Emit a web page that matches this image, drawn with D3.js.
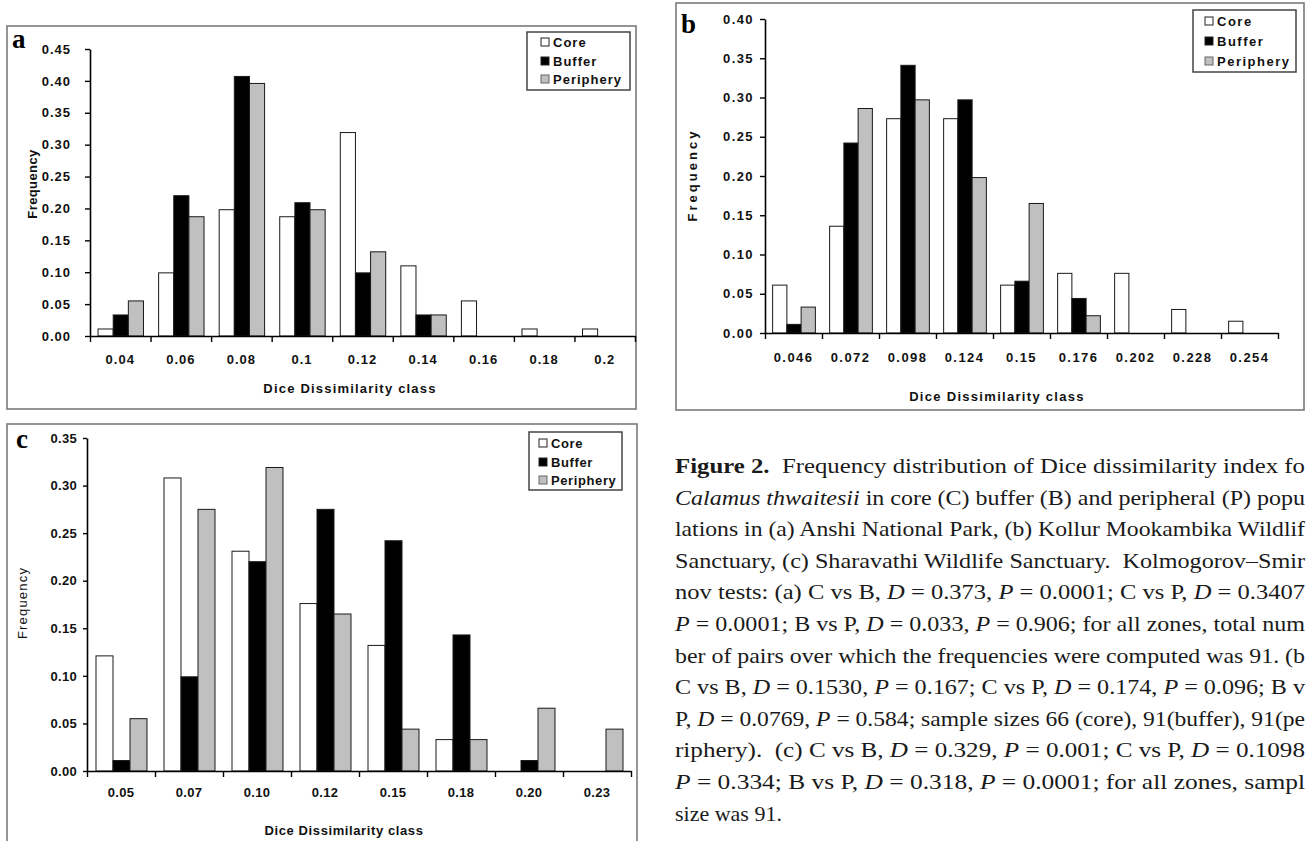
<!DOCTYPE html>
<html><head><meta charset="utf-8">
<script src="https://cdn.jsdelivr.net/npm/d3@7"></script>
<style>
body{margin:0;background:#fff;overflow:hidden}
svg{display:block}
</style></head><body>
<svg id="fig" width="1306" height="841"></svg>
<script>
// ---------- data ----------
const seriesNames = ["Core", "Buffer", "Periphery"];

const classesA = ["0.04","0.06","0.08","0.1","0.12","0.14","0.16","0.18","0.2"];
const coreA      = [0.011,0.099,0.198,0.187,0.319,0.110,0.055,0.011,0.011];
const bufferA    = [0.033,0.220,0.407,0.209,0.099,0.033,0,0,0];
const peripheryA = [0.055,0.187,0.396,0.198,0.132,0.033,0,0,0];
const yTicksA = [0,0.05,0.10,0.15,0.20,0.25,0.30,0.35,0.40,0.45];

const classesB = ["0.046","0.072","0.098","0.124","0.15","0.176","0.202","0.228","0.254"];
const coreB      = [0.061,0.136,0.273,0.273,0.061,0.076,0.076,0.030,0.015];
const bufferB    = [0.011,0.242,0.341,0.297,0.066,0.044,0,0,0];
const peripheryB = [0.033,0.286,0.297,0.198,0.165,0.022,0,0,0];
const yTicksB = [0,0.05,0.10,0.15,0.20,0.25,0.30,0.35,0.40];

const classesC = ["0.05","0.07","0.10","0.12","0.15","0.18","0.20","0.23"];
const coreC      = [0.121,0.308,0.231,0.176,0.132,0.033,0,0];
const bufferC    = [0.011,0.099,0.220,0.275,0.242,0.143,0.011,0];
const peripheryC = [0.055,0.275,0.319,0.165,0.044,0.033,0.066,0.044];
const yTicksC = [0,0.05,0.10,0.15,0.20,0.25,0.30,0.35];

const yTitle = "Frequency";
const xTitle = "Dice Dissimilarity class";

const captionLines = [
  [["Figure 2.","b"],["  Frequency distribution of Dice dissimilarity index fo",""]],
  [["Calamus thwaitesii","i"],[" in core (C) buffer (B) and peripheral (P) popu",""]],
  [["lations in (a) Anshi National Park, (b) Kollur Mookambika Wildlif",""]],
  [["Sanctuary, (c) Sharavathi Wildlife Sanctuary.  Kolmogorov–Smir",""]],
  [["nov tests: (a) C vs B, ",""],["D","i"],[" = 0.373, ",""],["P","i"],[" = 0.0001; C vs P, ",""],["D","i"],[" = 0.3407",""]],
  [["P","i"],[" = 0.0001; B vs P, ",""],["D","i"],[" = 0.033, ",""],["P","i"],[" = 0.906; for all zones, total num",""]],
  [["ber of pairs over which the frequencies were computed was 91. (b",""]],
  [["C vs B, ",""],["D","i"],[" = 0.1530, ",""],["P","i"],[" = 0.167; C vs P, ",""],["D","i"],[" = 0.174, ",""],["P","i"],[" = 0.096; B v",""]],
  [["P, ",""],["D","i"],[" = 0.0769, ",""],["P","i"],[" = 0.584; sample sizes 66 (core), 91(buffer), 91(pe",""]],
  [["riphery).  (c) C vs B, ",""],["D","i"],[" = 0.329, ",""],["P","i"],[" = 0.001; C vs P, ",""],["D","i"],[" = 0.1098",""]],
  [["P","i"],[" = 0.334; B vs P, ",""],["D","i"],[" = 0.318, ",""],["P","i"],[" = 0.0001; for all zones, sampl",""]],
  [["size was 91.",""]]
];

// ---------- drawing ----------
const svg = d3.select("#fig");
svg.append("rect").attr("width",1306).attr("height",841).attr("fill","#fff");

const fills = ["#ffffff", "#000000", "#c0c0c0"];
const SANS = "'Liberation Sans', Arial, sans-serif";

function drawPanel(p) {
  const g = svg.append("g");
  // frame
  g.append("rect").attr("x",p.frame[0]).attr("y",p.frame[1])
    .attr("width",p.frame[2]).attr("height",p.frame[3])
    .attr("fill","none").attr("stroke","#7a7a7a").attr("stroke-width",1.6);

  const y = d3.scaleLinear().domain([0, p.yMax]).range([p.yBase, p.yTop]);
  const xb = d3.scaleBand().domain(p.classes).range([p.x0, p.x1])
    .paddingInner(0.25).paddingOuter(0.125);
  const xs = d3.scaleBand().domain(seriesNames).range([0, xb.bandwidth()]);
  const xi = d3.scaleLinear().domain([0, p.classes.length]).range([p.x0, p.x1]);

  // bars
  const rows = p.classes.map((c, i) => ({c, vals: p.series.map(s => s[i])}));
  const grp = g.selectAll("g.cat").data(rows).join("g")
    .attr("transform", d => `translate(${xb(d.c)},0)`);
  grp.selectAll("rect").data(d => d.vals.map((v, k) => ({v, k})).filter(o => o.v > 0))
    .join("rect")
    .attr("x", o => xs(seriesNames[o.k]) + 0.5)
    .attr("width", xs.bandwidth())
    .attr("y", o => y(o.v))
    .attr("height", o => p.yBase - y(o.v))
    .attr("fill", o => fills[o.k])
    .attr("stroke", "#1a1a1a").attr("stroke-width", 1);

  // y axis
  const ya = g.append("g").attr("transform", `translate(${p.x0},0)`)
    .call(d3.axisLeft(y).tickValues(p.yTicks).tickFormat(d3.format(".2f"))
      .tickSizeInner(p.yTick).tickSizeOuter(0).tickPadding(p.yPad));
  ya.select(".domain").attr("stroke","#000").attr("stroke-width",1.6);
  ya.selectAll(".tick line").attr("stroke","#000").attr("stroke-width",1.4);
  ya.selectAll("text").attr("font-family",SANS).attr("font-weight","bold")
    .attr("font-size",p.fs).attr("letter-spacing",p.ls).attr("fill","#111");

  // x axis boundaries
  const xa = g.append("g").attr("transform", `translate(0,${p.yBase})`)
    .call(d3.axisBottom(xi).tickValues(d3.range(p.classes.length + 1))
      .tickFormat("").tickSizeInner(6).tickSizeOuter(0));
  xa.select(".domain").attr("stroke","#000").attr("stroke-width",1.6);
  xa.selectAll(".tick line").attr("stroke","#000").attr("stroke-width",1.4);

  // x labels
  const xl = g.append("g").attr("transform", `translate(0,${p.yBase})`)
    .call(d3.axisBottom(xb).tickSize(0).tickPadding(p.xPad));
  xl.select(".domain").remove();
  xl.selectAll("text").attr("font-family",SANS).attr("font-weight","bold")
    .attr("font-size",p.fs).attr("letter-spacing",p.ls).attr("fill","#111");

  // titles
  g.append("text").attr("x",p.xTitle[0]).attr("y",p.xTitle[1]).attr("text-anchor","middle")
    .attr("font-family",SANS).attr("font-weight","bold").attr("font-size",p.fs)
    .attr("letter-spacing",p.xTitleLs).attr("fill","#111").text(xTitle);
  g.append("text").attr("transform",`translate(${p.yTitle[0]},${p.yTitle[1]}) rotate(-90)`)
    .attr("text-anchor","middle").attr("font-family",SANS)
    .attr("font-weight",p.yTitleWeight).attr("font-size",p.fs)
    .attr("letter-spacing",p.yTitleLs).attr("fill","#111").text(yTitle);

  // panel letter
  g.append("text").attr("x",p.letter[0]).attr("y",p.letter[1])
    .attr("font-family","'Liberation Serif', 'Times New Roman', serif")
    .attr("font-weight","bold").attr("font-size",27).attr("fill","#000").text(p.letterText);

  // legend
  const L = p.legend;
  g.append("rect").attr("x",L.x).attr("y",L.y).attr("width",L.w).attr("height",L.h)
    .attr("fill","#fff").attr("stroke","#444").attr("stroke-width",1.5);
  const li = g.selectAll("g.leg").data(seriesNames).join("g")
    .attr("transform",(d,i)=>`translate(0,${L.rows[i]})`);
  li.append("rect").attr("x",L.sx).attr("y",-4).attr("width",8).attr("height",8)
    .attr("fill",(d,i)=>fills[i]).attr("stroke",(d,i)=> i===2 ? "#666" : "#222").attr("stroke-width",1);
  li.append("text").attr("x",L.tx).attr("y",0).attr("dy","0.36em")
    .attr("font-family",SANS).attr("font-weight","bold").attr("font-size",p.fs)
    .attr("letter-spacing",L.ls).attr("fill","#111").text(d=>d);
}

drawPanel({
  frame:[7,26,629,383], classes:classesA, series:[coreA,bufferA,peripheryA],
  x0:90, x1:635, yTop:49, yBase:336, yMax:0.45, yTicks:yTicksA,
  yTick:5, yPad:14, xPad:19, fs:13, ls:1,
  xTitle:[350,393], xTitleLs:1.2, yTitle:[37,184], yTitleLs:0.4, yTitleWeight:"bold",
  letter:[12,48], letterText:"a",
  legend:{x:527,y:32,w:103,h:58,rows:[42,61,79],sx:541,tx:553,ls:1}
});
drawPanel({
  frame:[676,3,628,407], classes:classesB, series:[coreB,bufferB,peripheryB],
  x0:765, x1:1278, yTop:19, yBase:333, yMax:0.40, yTicks:yTicksB,
  yTick:5, yPad:6, xPad:20, fs:13, ls:1.4,
  xTitle:[997,401], xTitleLs:1.3, yTitle:[697,175], yTitleLs:3, yTitleWeight:"bold",
  letter:[681,33], letterText:"b",
  legend:{x:1193,y:10,w:103,h:62,rows:[21,41,61],sx:1205,tx:1217,ls:1.5}
});
drawPanel({
  frame:[7,424,630,430], classes:classesC, series:[coreC,bufferC,peripheryC],
  x0:87, x1:631, yTop:438, yBase:771, yMax:0.35, yTicks:yTicksC,
  yTick:4, yPad:6, xPad:17, fs:13, ls:0.3,
  xTitle:[344,835], xTitleLs:0.6, yTitle:[27,603], yTitleLs:1.2, yTitleWeight:"normal",
  letter:[16,448], letterText:"c",
  legend:{x:529,y:432,w:93,h:58,rows:[443,462,480],sx:539,tx:551,ls:0.6}
});

// caption
const cap = svg.append("g").attr("font-family","'Liberation Serif', 'Times New Roman', serif")
  .attr("font-size",22).attr("fill","#1a1a1a");
captionLines.forEach((segs, i) => {
  const t = cap.append("text").attr("x",675).attr("y",473 + i*31.6).attr("xml:space","preserve");
  if (i < captionLines.length - 1) t.attr("textLength",630).attr("lengthAdjust","spacingAndGlyphs");
  segs.forEach(([s, st]) => {
    const ts = t.append("tspan").text(s);
    if (st === "b") ts.attr("font-weight","bold");
    if (st === "i") ts.attr("font-style","italic");
  });
});
</script>
</body></html>
